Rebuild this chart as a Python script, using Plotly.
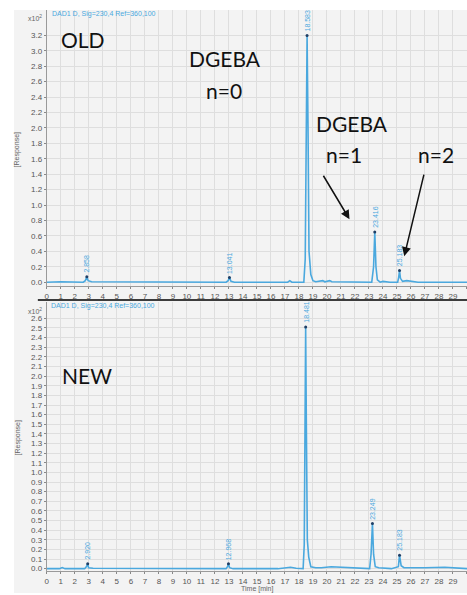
import plotly.graph_objects as go

W, H = 467, 595

# ---------------- data ----------------
old_time = [0.0, 1.0, 2.6, 2.75, 2.858, 2.95, 3.2, 8.0, 12.8, 12.95, 13.041, 13.15, 13.4,
            17.2, 17.35, 17.5, 18.35, 18.45, 18.52, 18.583, 18.65, 18.72, 18.85, 19.0, 19.2,
            19.7, 19.85, 20.2, 20.35, 21.0, 23.2, 23.33, 23.416, 23.5, 23.6, 23.8, 24.0, 24.5,
            25.05, 25.12, 25.183, 25.25, 25.4, 25.7, 26.0, 26.5, 30.0]
old_resp = [0.0, 0.005, 0.0, 0.02, 0.07, 0.02, 0.005, 0.0, 0.0, 0.02, 0.06, 0.01, 0.0,
            0.0, 0.02, 0.0, 0.0, 0.3, 2.0, 3.2, 2.0, 0.4, 0.1, 0.02, 0.005,
            0.02, 0.005, 0.02, 0.005, 0.005, 0.0, 0.2, 0.65, 0.2, 0.03, 0.0, 0.01, 0.0,
            0.0, 0.06, 0.15, 0.05, 0.01, 0.02, 0.015, 0.0, 0.0]

new_time = [0.0, 0.9, 1.1, 1.3, 2.7, 2.82, 2.92, 2.98, 3.3, 8.0, 12.8, 12.9, 12.968, 13.05, 13.3,
            16.5, 17.0, 17.4, 17.8, 18.3, 18.38, 18.44, 18.481, 18.53, 18.6, 18.7, 18.85, 19.2,
            19.6, 20.3, 21.0, 21.8, 22.5, 23.05, 23.15, 23.249, 23.33, 23.45, 23.7, 24.6,
            25.1, 25.183, 25.3, 25.5, 27.0, 28.4, 30.0]
new_resp = [0.0, 0.0, 0.012, 0.0, 0.0, 0.02, 0.05, 0.01, 0.005, 0.0, 0.0, 0.02, 0.05, 0.01, 0.0,
            0.0, 0.01, 0.015, 0.005, 0.0, 0.25, 1.5, 2.51, 1.5, 0.3, 0.12, 0.02, 0.01,
            0.01, 0.02, 0.015, 0.01, 0.01, 0.0, 0.15, 0.47, 0.15, 0.02, 0.01, 0.0,
            0.02, 0.14, 0.03, 0.01, 0.01, 0.015, 0.0]

old_peak_rt = [2.858, 13.041, 18.583, 23.416, 25.183]
old_peak_h = [0.07, 0.06, 3.2, 0.65, 0.15]
old_peak_lbl = ["2.858", "13.041", "18.583", "23.416", "25.183"]

new_peak_rt = [2.92, 12.968, 18.481, 23.249, 25.183]
new_peak_h = [0.05, 0.05, 2.51, 0.47, 0.14]
new_peak_lbl = ["2.920", "12.968", "18.481", "23.249", "25.183"]

old_yticks = [0.0, 0.2, 0.4, 0.6, 0.8, 1.0, 1.2, 1.4, 1.6, 1.8, 2.0, 2.2, 2.4, 2.6,
              2.8, 3.0, 3.2]
new_yticks = [0.0, 0.1, 0.2, 0.3, 0.4, 0.5, 0.6, 0.7, 0.8, 0.9, 1.0, 1.1, 1.2, 1.3,
              1.4, 1.5, 1.6, 1.7, 1.8, 1.9, 2.0, 2.1, 2.2, 2.3, 2.4, 2.5, 2.6]
time_ticks = list(range(0, 31))

header_text = "DAD1 D, Sig=230,4 Ref=360,100"
x_title = "Time [min]"
y_title = "[Response]"
# ---------------------------------------------------------------

def px(x):
    return x / W

def py(y):
    return 1 - y / H

LINE = "#4aa8de"
APEX = "#1f3f66"

fig = go.Figure()
fig.add_trace(go.Scatter(x=old_time, y=old_resp, mode="lines",
                         line=dict(color=LINE, width=1.6), xaxis="x", yaxis="y",
                         hoverinfo="skip", showlegend=False))
fig.add_trace(go.Scatter(x=old_peak_rt, y=old_peak_h, mode="markers",
                         marker=dict(color=APEX, size=3), xaxis="x", yaxis="y",
                         showlegend=False))
fig.add_trace(go.Scatter(x=new_time, y=new_resp, mode="lines",
                         line=dict(color=LINE, width=1.6), xaxis="x2", yaxis="y2",
                         hoverinfo="skip", showlegend=False))
fig.add_trace(go.Scatter(x=new_peak_rt, y=new_peak_h, mode="markers",
                         marker=dict(color=APEX, size=3), xaxis="x2", yaxis="y2",
                         showlegend=False))

tickfont = dict(family="Liberation Sans, Arial", size=8, color="#555")
axcommon = dict(showgrid=True, gridcolor="#dedede", gridwidth=1, zeroline=False,
                ticks="outside", ticklen=2, tickcolor="#888", tickfont=tickfont,
                showline=True, linecolor="#9a9a9a", linewidth=1)

xdom = [px(45), 1.0]
fig.update_layout(
    width=W, height=H, margin=dict(l=0, r=0, t=0, b=0),
    paper_bgcolor="white", plot_bgcolor="white",
    xaxis=dict(domain=xdom, range=[0, 30.0], tickvals=time_ticks, anchor="y", **axcommon),
    yaxis=dict(domain=[py(287), py(10)], range=[-0.05, 3.53], tickvals=old_yticks,
               tickformat=".1f", anchor="x", **axcommon),
    xaxis2=dict(domain=xdom, range=[0, 30.0], tickvals=time_ticks, anchor="y2", **axcommon),
    yaxis2=dict(domain=[py(573), py(303)], range=[-0.025, 2.77], tickvals=new_yticks,
                tickformat=".1f", anchor="x2", **axcommon),
)

shapes = [
    dict(type="rect", xref="paper", yref="paper", x0=px(12), x1=1, y0=0, y1=py(10),
         fillcolor="#f3f3f3", line=dict(width=0), layer="below"),
    dict(type="line", xref="paper", yref="paper", x0=px(36), x1=1, y0=py(301), y1=py(301),
         line=dict(color="#3c3c3c", width=2)),
]
fig.update_layout(shapes=shapes)

ann = []
big = dict(family="Lato, Carlito, Open Sans", size=21, color="#111")
small_blue = dict(family="Liberation Sans, Arial", size=7, color=LINE)
grey = dict(family="Liberation Sans, Arial", size=7, color="#666")

def A(x, y, text, font, **kw):
    d = dict(x=px(x), y=py(y), xref="paper", yref="paper", text=text, showarrow=False,
             font=font)
    d.update(kw)
    ann.append(d)

A(57, 40, "OLD", big, xanchor="left", yanchor="middle")
A(224, 59, "DGEBA", big, xanchor="center", yanchor="middle")
A(223, 91, "n=0", big, xanchor="center", yanchor="middle")
A(352, 124, "DGEBA", big, xanchor="center", yanchor="middle")
A(343, 155, "n=1", big, xanchor="center", yanchor="middle")
A(436, 155, "n=2", big, xanchor="center", yanchor="middle")
A(58, 377, "NEW", big, xanchor="left", yanchor="middle")

A(48, 14, header_text, small_blue, xanchor="left", yanchor="middle")
A(47, 307, header_text, small_blue, xanchor="left", yanchor="middle")
A(42, 18, "x10<sup>2</sup>", grey, xanchor="right", yanchor="middle")
A(42, 312, "x10<sup>2</sup>", grey, xanchor="right", yanchor="middle")
A(16, 150, y_title, grey, textangle=-90, xanchor="center", yanchor="middle")
A(16, 439, y_title, grey, textangle=-90, xanchor="center", yanchor="middle")
A(256, 591, x_title, grey, xanchor="center", yanchor="middle")

# arrows
ann.append(dict(x=px(349), y=py(220), xref="paper", yref="paper", ax=-27, ay=-45,
                showarrow=True, arrowhead=2,
                arrowsize=1.2, arrowwidth=1.5, arrowcolor="#111", text=""))
ann.append(dict(x=px(404), y=py(257), xref="paper", yref="paper", ax=20, ay=-83,
                showarrow=True, arrowhead=2, arrowsize=1.2, arrowwidth=1.5,
                arrowcolor="#111", text=""))

# peak labels
for rt, h, lbl in zip(old_peak_rt, old_peak_h, old_peak_lbl):
    ann.append(dict(x=rt, y=h, xref="x", yref="y", text=lbl, showarrow=False,
                    textangle=-90, font=small_blue, xanchor="center", yanchor="bottom",
                    yshift=2))
for rt, h, lbl in zip(new_peak_rt, new_peak_h, new_peak_lbl):
    ann.append(dict(x=rt, y=h, xref="x2", yref="y2", text=lbl, showarrow=False,
                    textangle=-90, font=small_blue, xanchor="center", yanchor="bottom",
                    yshift=2))

fig.update_layout(annotations=ann)
fig.write_html("out.html")
